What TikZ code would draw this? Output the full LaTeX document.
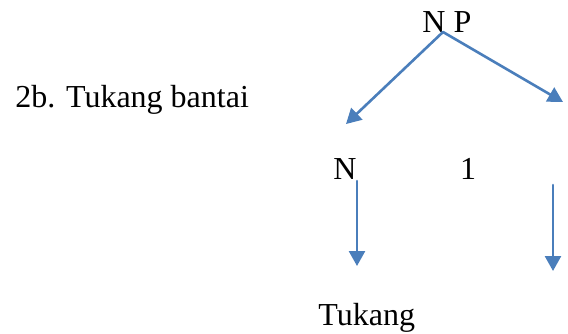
\documentclass[tikz,border=0pt]{standalone}
\usepackage{fontspec}
\setmainfont{Liberation Serif}
\usetikzlibrary{arrows.meta}
\definecolor{wordblue}{HTML}{4A7EBB}
\begin{document}
\begin{tikzpicture}[x=.5pt,y=-.5pt,line cap=round,line join=round,
    lbl/.style={inner sep=0pt,font=\fontsize{16}{19}\selectfont},
    branch/.style={wordblue,line width=1.3pt,-{Triangle[length=7.5pt,width=8pt]}}]
  \useasboundingbox (0,0) rectangle (568,333);
  \node[lbl,anchor=base west] (title) at (15,107) {2b. Tukang bantai};
  \node[lbl,anchor=base west] (np) at (422,32) {N P};
  \coordinate (root) at (443,32);
  \coordinate (lefttip) at (346,124);
  \coordinate (righttip) at (563,102);
  \draw[branch] (root)--(lefttip);
  \draw[branch] (root)--(righttip);
  \node[lbl,anchor=base west] (n) at (333,179) {N};
  \node[lbl,anchor=base] (one) at (468,179) {1};
  \coordinate (ltop) at (357,181);
  \coordinate (lbot) at (357,266);
  \coordinate (rtop) at (553,185);
  \coordinate (rbot) at (553,271);
  \draw[branch] (ltop)--(lbot);
  \draw[branch] (rtop)--(rbot);
  \node[lbl,anchor=base west] (word) at (318,325) {Tukang};
\end{tikzpicture}
\end{document}
